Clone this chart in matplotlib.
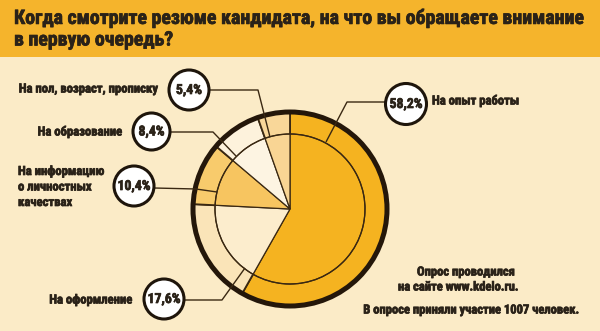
import matplotlib
matplotlib.use("Agg")
import matplotlib.pyplot as plt
import matplotlib.patheffects as pe
from matplotlib.patches import Circle, Rectangle

# Survey data
categories = [
    "На опыт работы",
    "На оформление",
    "На информацию\nо личностных\nкачествах",
    "На образование",
    "На пол, возраст, прописку",
]
shares = [58.2, 17.6, 10.4, 8.4, 5.4]
value_labels = ["58,2%", "17,6%", "10,4%", "8,4%", "5,4%"]

title_lines = ["Когда смотрите резюме кандидата, на что вы обращаете внимание",
               "в первую очередь?"]
note_lines = ["Опрос проводился", "на сайте www.kdelo.ru.", "В опросе приняли участие 1007 человек."]

FONT = ["Roboto Condensed", "DejaVu Sans Condensed", "Liberation Sans Narrow", "Liberation Sans"]

W, H = 600, 331
BG = "#FBEBC7"
BAND = "#F5B42C"
INK = "#2A2218"
LINE = "#3A2812"

# slightly heavier glyphs
HEAVY = [pe.withStroke(linewidth=0.5, foreground=INK)]

fig = plt.figure(figsize=(6, 3.31), dpi=100)
fig.patch.set_facecolor(BG)
ax = fig.add_axes([0, 0, 1, 1])
ax.set_facecolor(BG)


def Y(y):
    return H - y


# title band
ax.add_patch(Rectangle((0, Y(57)), W, 57, facecolor=BAND, edgecolor="none", zorder=0))
t1 = ax.text(14, Y(18), title_lines[0], fontfamily=FONT, fontweight="bold", fontsize=13,
             color=INK, va="center", ha="left", zorder=5, path_effects=HEAVY)
t2 = ax.text(14, Y(40), title_lines[1], fontfamily=FONT, fontweight="bold", fontsize=13,
             color=INK, va="center", ha="left", zorder=5, path_effects=HEAVY)

# pie: outer ring and inner disc
cx, cy, R, r_in = 290, Y(209), 97, 75
outer_colors = ["#F5B320", "#FAE4B8", "#F8CB6C", "#FDF2DC", "#F9D799"]
inner_colors = ["#F5B320", "#FCEDCD", "#F7C560", "#FDF4E2", "#F9D594"]
ax.pie(shares, radius=R, center=(cx, cy), startangle=90, counterclock=False,
       colors=outer_colors, wedgeprops=dict(edgecolor=LINE, linewidth=1.3))
ax.pie(shares, radius=r_in, center=(cx, cy), startangle=90, counterclock=False,
       colors=inner_colors, wedgeprops=dict(edgecolor=LINE, linewidth=0.9))
ax.add_patch(Circle((cx, cy), r_in, facecolor="none", edgecolor=LINE, lw=0.9, zorder=3))
ax.add_patch(Circle((cx, cy), R, facecolor="none", edgecolor="#24170A", lw=3.6, zorder=4))

ax.set_xlim(0, W)
ax.set_ylim(0, H)
ax.set_aspect("auto")
ax.axis("off")

# bubbles, leader lines and category labels
bubbles = [(406, 104, 20.5), (164, 299, 20), (134, 186, 20), (151.5, 131.5, 18.5), (189, 90, 20)]
leaders = [
    [(385, 102), (347, 102), (326, 142)],
    [(184, 300), (222, 300), (245, 268)],
    [(154, 188), (196, 189), (217, 192)],
    [(170, 132), (213, 132), (236, 156)],
    [(209, 90), (258, 90), (270, 137)],
]
label_pos = [
    (432, 101, "left"),
    (132, 300, "right"),
    (18, 187, "left"),
    (122, 132, "right"),
    (157, 89, "right"),
]

cat_texts = []
val_texts = []
for (bx, by, br), pts, (lx, ly, ha), cat, vl in zip(bubbles, leaders, label_pos, categories, value_labels):
    xs = [p[0] for p in pts]
    ys = [Y(p[1]) for p in pts]
    ax.plot(xs, ys, color=LINE, lw=1.0, zorder=6, solid_capstyle="butt")
    ax.add_patch(Circle((bx, Y(by)), br, facecolor="white", edgecolor="#1E150B", lw=2.2, zorder=7))
    val_texts.append(ax.text(bx, Y(by), vl, fontfamily=FONT, fontweight="bold", fontsize=9,
                             color=INK, ha="center", va="center", zorder=8, path_effects=HEAVY))
    cat_texts.append(ax.text(lx, Y(ly), cat, fontfamily=FONT, fontweight="bold", fontsize=8.2,
                             color=INK, ha=ha, va="center", linespacing=1.25, zorder=8,
                             path_effects=HEAVY))

# survey note
n1 = ax.text(417, Y(272), note_lines[0], fontfamily=FONT, fontweight="bold", fontsize=8.2,
             color=INK, ha="left", va="center", path_effects=HEAVY)
n2 = ax.text(398, Y(287), note_lines[1], fontfamily=FONT, fontweight="bold", fontsize=8.2,
             color=INK, ha="left", va="center", path_effects=HEAVY)
n3 = ax.text(578, Y(310), note_lines[2], fontfamily=FONT, fontweight="bold", fontsize=8.2,
             color=INK, ha="right", va="center", path_effects=HEAVY)


def fit(ref, target_px, group):
    """Scale the font size of a group of texts so that `ref` spans target_px."""
    fig.canvas.draw()
    rend = fig.canvas.get_renderer()
    w = ref.get_window_extent(rend).width
    k = target_px / w
    for t in group:
        t.set_fontsize(t.get_fontsize() * k)


fit(t1, 568, [t1, t2])
fit(cat_texts[4], 139, cat_texts)
fit(n3, 216, [n1, n2, n3])
fit(val_texts[0], 33, val_texts)

fig.savefig("out.png", dpi=100, facecolor=BG)
